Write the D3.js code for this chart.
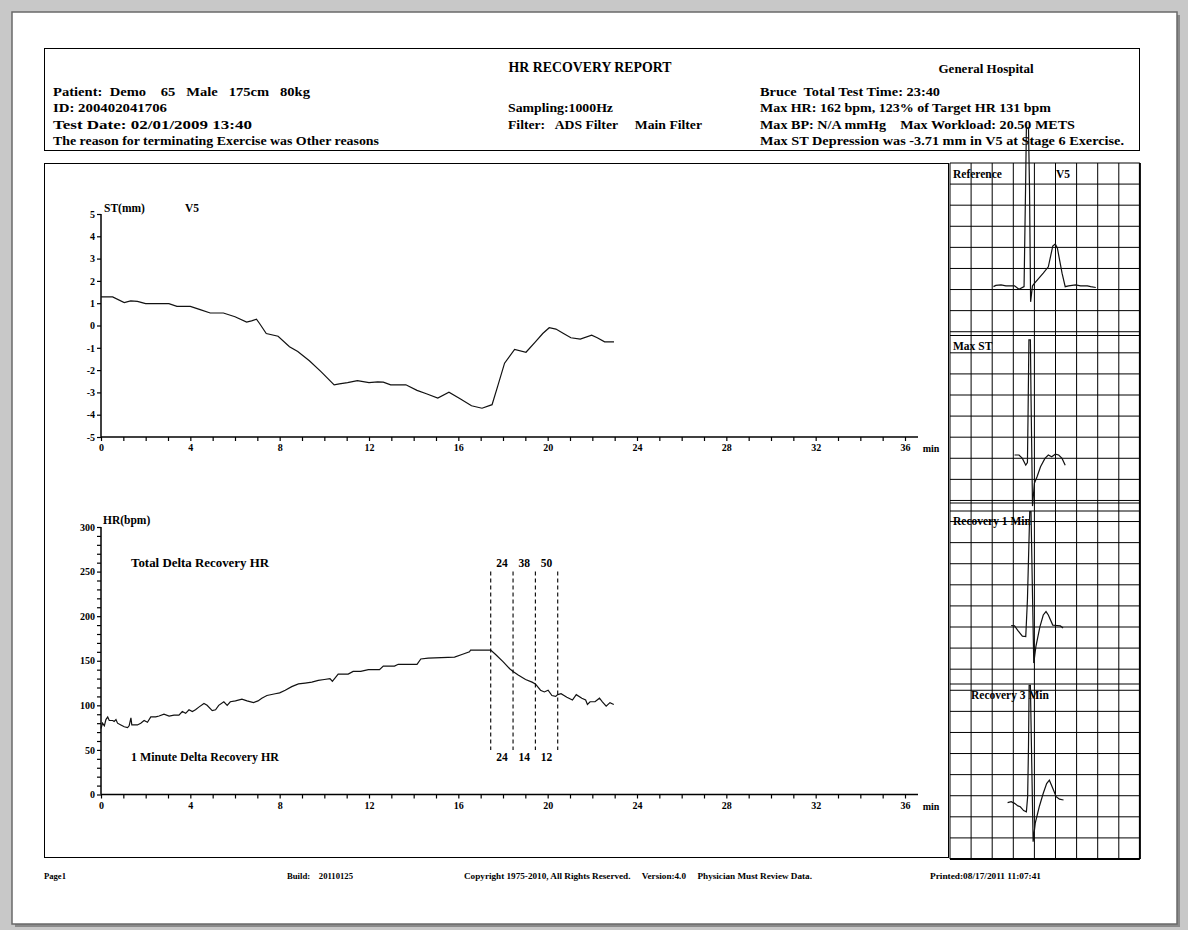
<!DOCTYPE html>
<html>
<head>
<meta charset="utf-8">
<script src="https://cdn.jsdelivr.net/npm/d3@7"></script>
<style>
  html, body { margin: 0; padding: 0; background: #c8c8c8; }
  svg { display: block; }
  text { font-family: "Liberation Serif", "Times New Roman", serif; font-weight: bold; fill: #000; white-space: pre; }
</style>
</head>
<body>
<svg id="report" width="1188" height="930"></svg>
<script>
// ---------- report data ----------
const headerLeft = [
  "Patient:  Demo    65   Male   175cm   80kg",
  "ID: 200402041706",
  "Test Date: 02/01/2009 13:40",
  "The reason for terminating Exercise was Other reasons"
];
const headerMid = ["Sampling:1000Hz", "Filter:   ADS Filter     Main Filter"];
const headerRight = [
  "Bruce  Total Test Time: 23:40",
  "Max HR: 162 bpm, 123% of Target HR 131 bpm",
  "Max BP: N/A mmHg    Max Workload: 20.50 METS",
  "Max ST Depression was -3.71 mm in V5 at Stage 6 Exercise."
];
const footerItems = [
  "Page1",
  "Build:    20110125",
  "Copyright 1975-2010, All Rights Reserved.     Version:4.0     Physician Must Review Data.",
  "Printed:08/17/2011 11:07:41"
];

// ST level in lead V5 (minutes, mm)
const stTime = [0, 0.52, 1.04, 1.33, 1.63, 2.0, 3.04, 3.4, 4.0, 4.44, 4.89, 5.48, 6.0, 6.52, 6.74, 6.96,
  7.1, 7.4, 7.93, 8.44, 8.81, 9.33, 9.85, 10.44, 10.67, 11.04, 11.48, 12.0, 12.39, 12.64, 12.97, 13.65,
  14.15, 14.57, 15.08, 15.58, 16.08, 16.59, 17.06, 17.51, 17.76, 18.07, 18.52, 19.03, 19.45, 19.78,
  20.07, 20.37, 20.71, 21.04, 21.46, 21.97, 22.22, 22.55, 22.97];
const stMm = [1.28, 1.28, 1.03, 1.10, 1.08, 0.98, 0.98, 0.86, 0.86, 0.71, 0.56, 0.56, 0.39, 0.15, 0.21, 0.28,
  0.09, -0.36, -0.48, -0.95, -1.17, -1.58, -2.07, -2.66, -2.62, -2.56, -2.47, -2.56, -2.53, -2.54, -2.66, -2.66,
  -2.91, -3.06, -3.25, -2.99, -3.28, -3.60, -3.71, -3.55, -2.73, -1.69, -1.07, -1.20, -0.73, -0.36,
  -0.10, -0.16, -0.36, -0.55, -0.61, -0.43, -0.55, -0.73, -0.73];

// heart rate (minutes, bpm)
const hrTime = [0, 0.07, 0.15, 0.22, 0.3, 0.37, 0.52, 0.59, 0.67, 0.74, 0.89, 1.04, 1.19, 1.26, 1.34, 1.38,
  1.63, 1.78, 1.93, 2.08, 2.23, 2.45, 2.6, 2.82, 3.05, 3.27, 3.49, 3.64, 3.79, 3.94, 4.09, 4.23, 4.38,
  4.61, 4.75, 4.98, 5.13, 5.27, 5.5, 5.65, 5.79, 6.02, 6.31, 6.54, 6.83, 7.03, 7.2, 7.43, 7.8, 8.0,
  8.25, 8.54, 8.84, 9.14, 9.44, 9.73, 10.0, 10.25, 10.36, 10.62, 11.07, 11.29, 11.63, 11.97, 12.47,
  12.64, 13.14, 13.31, 14.15, 14.32, 14.65, 15.83, 16.16, 16.5, 16.55, 17.45, 17.67, 18.0, 18.3, 18.45,
  18.68, 19.01, 19.3, 19.45, 19.68, 19.85, 20.02, 20.19, 20.36, 20.45, 20.6, 20.86, 21.11, 21.28,
  21.53, 21.7, 21.78, 21.9, 22.12, 22.32, 22.45, 22.62, 22.79, 22.96];
const hrBpm = [74, 80, 77, 84, 87, 83, 83, 82, 84, 80, 78, 76, 75, 77, 86, 78,
  78, 80, 83, 81, 87, 87, 88, 90, 88, 89, 89, 93, 91, 95, 93, 95, 98,
  102, 100, 94, 95, 100, 104, 100, 104, 105, 107, 105, 103, 105, 108, 111, 113, 114,
  117, 121, 124, 125, 126, 128, 129, 130, 127, 135, 135, 138, 138, 140, 140,
  144, 144, 146, 146, 152, 153, 154, 157, 160, 162, 162, 157, 149, 141, 138,
  134, 129, 126, 124, 117, 115, 117, 111, 110, 112, 113, 109, 106, 112,
  108, 106, 101, 104, 104, 108, 104, 99, 103, 101];

// recovery markers: peak exercise end, then 1, 2 and 3 minutes of recovery
const recoveryMarks = [17.45, 18.45, 19.45, 20.45];

// axis ticks
const timeTicks = d3.range(0, 37, 1);
const stTicks = d3.range(-5, 6, 1);
const hrTicks = d3.range(0, 301, 10);

// median beats (ms, mV)
const ecgReference = [[206, 0], [217, 0.03], [242, 0.04], [265, 0.02], [306, 0.02], [327, -0.06], [351, 0],
  [358, 2.29], [362, 3.76], [372, 3.76], [377, 2.29], [382, -0.36], [391, 0.02], [402, 0.09], [442, 0.32],
  [466, 0.47], [487, 0.96], [499, 1.01], [509, 0.91], [531, 0.32], [546, 0], [562, 0.02], [595, 0.04],
  [619, 0.02], [651, 0.02], [667, 0], [691, -0.02]];
const ecgMaxSt = [[306, 0], [327, 0], [343, -0.08], [359, -0.24], [367, -0.18], [370, 0.99], [374, 2.73],
  [381, 2.73], [384, 1.38], [391, -1.21], [400, -0.67], [413, -0.51], [429, -0.28], [450, -0.08], [466, 0],
  [482, -0.04], [499, 0.02], [515, 0], [531, -0.08], [546, -0.24]];
const ecgRecovery1 = [[290, 0.01], [306, 0], [322, -0.11], [343, -0.24], [359, -0.25], [367, 0.62], [378, 2.71],
  [384, 2.71], [390, 1.0], [397, -0.88], [407, -0.49], [426, -0.02], [442, 0.26], [455, 0.34], [466, 0.26],
  [487, 0.02], [507, 0.01], [523, 0], [536, -0.05]];
const ecgRecovery3 = [[273, -0.02], [290, 0], [306, -0.04], [322, -0.1], [333, -0.12], [349, -0.21], [362, -0.24],
  [368, 0.12], [372, 1.30], [375, 2.76], [381, 2.76], [386, 1.30], [394, -0.95], [404, -0.51], [423, -0.12],
  [442, 0.20], [458, 0.43], [471, 0.51], [487, 0.32], [503, 0.12], [519, 0.06], [538, 0.04]];
const ecgNames = ["Reference", "Max ST", "Recovery 1 Min", "Recovery 3 Min"];
const ecgBeats = [ecgReference, ecgMaxSt, ecgRecovery1, ecgRecovery3];

// ---------- drawing ----------
const svg = d3.select("#report");
const INK = "#000";

// page sheet
svg.append("rect").attr("x", 0).attr("y", 0).attr("width", 1188).attr("height", 930).attr("fill", "#c8c8c8");
svg.append("rect").attr("x", 15).attr("y", 15).attr("width", 1165).attr("height", 912).attr("fill", "#8a8a8a");
svg.append("rect").attr("x", 12).attr("y", 12).attr("width", 1165).attr("height", 912)
  .attr("fill", "#fff").attr("stroke", "#6a6a6a").attr("stroke-width", 1.5);

function label(parent, x, y, str, size, width, anchor) {
  const t = parent.append("text").attr("x", x).attr("y", y).attr("font-size", size)
    .attr("text-anchor", anchor || "start").text(str);
  if (width) t.attr("textLength", width).attr("lengthAdjust", "spacingAndGlyphs");
  return t;
}

// header box
const head = svg.append("g");
head.append("rect").attr("x", 44.5).attr("y", 48.5).attr("width", 1095).attr("height", 102)
  .attr("fill", "none").attr("stroke", INK).attr("stroke-width", 1);
label(head, 590, 72, "HR RECOVERY REPORT", 14, 163, "middle");
label(head, 986, 73, "General Hospital", 12, 95, "middle");
const rowY = [96, 112, 129, 145];
const leftW = [257, 114, 199, 326];
headerLeft.forEach((s, i) => label(head, 53, rowY[i], s, 13.5, leftW[i]));
const midW = [105, 194];
headerMid.forEach((s, i) => label(head, 508, rowY[i + 1], s, 13.5, midW[i]));
const rightW = [180, 291, 315, 364];
headerRight.forEach((s, i) => label(head, 760, rowY[i], s, 13.5, rightW[i]));

// chart frame
svg.append("rect").attr("x", 44.5).attr("y", 163.5).attr("width", 904).attr("height", 694)
  .attr("fill", "none").attr("stroke", INK).attr("stroke-width", 1);

// shared time scale
const x = d3.scaleLinear().domain([0, 36]).range([101, 905]);
const AXIS_END = 918;

function timeAxis(g, yPos) {
  const ax = d3.axisBottom(x).tickValues(timeTicks).tickSize(4).tickPadding(3)
    .tickFormat(d => d % 4 === 0 ? d : "");
  const a = g.append("g").attr("transform", `translate(0,${yPos})`).call(ax);
  a.select(".domain").remove();
  a.selectAll(".tick line").attr("stroke", INK).attr("stroke-width", 1.2);
  a.selectAll(".tick text").attr("font-size", 10).attr("font-family", null).attr("fill", INK);
  g.append("line").attr("x1", x(0)).attr("x2", AXIS_END).attr("y1", yPos).attr("y2", yPos)
    .attr("stroke", INK).attr("stroke-width", 1.5);
  label(g, 931, yPos + 15, "min", 10, null, "middle");
}

function valueAxis(g, scale, ticks, fmt) {
  const ax = d3.axisLeft(scale).tickValues(ticks).tickSize(4).tickPadding(2).tickFormat(fmt);
  const a = g.append("g").attr("transform", `translate(${x(0)},0)`).call(ax);
  a.select(".domain").remove();
  a.selectAll(".tick line").attr("stroke", INK).attr("stroke-width", 1.2);
  a.selectAll(".tick text").attr("font-size", 10).attr("font-family", null).attr("fill", INK);
  const r = scale.range();
  g.append("line").attr("x1", x(0)).attr("x2", x(0)).attr("y1", r[0]).attr("y2", r[1])
    .attr("stroke", INK).attr("stroke-width", 1.5);
}

// ST trend
const stG = svg.append("g");
const yST = d3.scaleLinear().domain([-5, 5]).range([437, 214]);
valueAxis(stG, yST, stTicks, d => d);
timeAxis(stG, yST(-5));
label(stG, 104, 212, "ST(mm)", 11.5);
label(stG, 185, 212, "V5", 11.5);
stG.append("path")
  .datum(stTime.map((t, i) => [t, stMm[i]]))
  .attr("d", d3.line().x(d => x(d[0])).y(d => yST(d[1])))
  .attr("fill", "none").attr("stroke", "#111").attr("stroke-width", 1.2);

// heart rate trend
const hrG = svg.append("g");
const yHR = d3.scaleLinear().domain([0, 300]).range([794.5, 527]);
valueAxis(hrG, yHR, hrTicks, d => d % 50 === 0 ? d : "");
timeAxis(hrG, yHR(0));
label(hrG, 103, 524, "HR(bpm)", 11.5);
label(hrG, 131, 567, "Total Delta Recovery HR", 11.5, 138);
label(hrG, 131, 761, "1 Minute Delta Recovery HR", 11.5, 148);
hrG.append("path")
  .datum(hrTime.map((t, i) => [t, hrBpm[i]]))
  .attr("d", d3.line().x(d => x(d[0])).y(d => yHR(d[1])))
  .attr("fill", "none").attr("stroke", "#111").attr("stroke-width", 1.2);

// recovery markers and deltas read from the trend
const hrAt = t => hrBpm[hrTime.indexOf(t)];
const peakHr = hrAt(recoveryMarks[0]);
recoveryMarks.forEach(t => {
  hrG.append("line").attr("x1", x(t)).attr("x2", x(t)).attr("y1", yHR(250)).attr("y2", yHR(50))
    .attr("stroke", INK).attr("stroke-width", 1.1).attr("stroke-dasharray", "4,3");
});
recoveryMarks.slice(1).forEach((t, i) => {
  const mid = x((t + recoveryMarks[i]) / 2);
  label(hrG, mid, 567, String(peakHr - hrAt(t)), 11.5, null, "middle");
  label(hrG, mid, 761, String(hrAt(recoveryMarks[i]) - hrAt(t)), 11.5, null, "middle");
});

// ECG strip panel
const ecgG = svg.append("g");
const GX0 = 950, GY0 = 163, CELL = 21.1, COLS = 9, ROWS = 33;
const gridX = d3.range(COLS + 1).map(k => GX0 + k * CELL);
const gridY = d3.range(ROWS + 1).map(k => GY0 + k * (859 - GY0) / ROWS);
ecgG.selectAll("line.v").data(gridX).join("line")
  .attr("x1", d => d).attr("x2", d => d).attr("y1", GY0).attr("y2", 859)
  .attr("stroke", INK).attr("stroke-width", (d, i) => i === COLS ? 2 : 1);
ecgG.selectAll("line.h").data(gridY.concat([335.5, 503, 511, 684])).join("line")
  .attr("x1", GX0).attr("x2", gridX[COLS]).attr("y1", d => d).attr("y2", d => d)
  .attr("stroke", INK).attr("stroke-width", (d, i) => i === ROWS ? 2 : 1);

const xE = d3.scaleLinear().domain([0, 900]).range([GX0, GX0 + COLS * CELL]);
const baselineRow = [5.86, 13.84, 21.94, 30.27];
const labelPos = [[953, 178], [953, 350], [953, 525], [971, 699]];
ecgBeats.forEach((beat, i) => {
  const base = GY0 + baselineRow[i] * CELL;
  const yE = d3.scaleLinear().domain([0, 1]).range([base, base - 2 * CELL]);
  label(ecgG, labelPos[i][0], labelPos[i][1], ecgNames[i], 11.5);
  ecgG.append("path").datum(beat)
    .attr("d", d3.line().x(d => xE(d[0])).y(d => yE(d[1])))
    .attr("fill", "none").attr("stroke", "#111").attr("stroke-width", 1.2);
});
label(ecgG, 1056, 178, "V5", 11.5);

// footer
const foot = svg.append("g");
const footX = [44, 287, 464, 930];
const footW = [22, 66, 348, 111];
footerItems.forEach((s, i) => label(foot, footX[i], 879, s, 8.5, footW[i]));
</script>
</body>
</html>
